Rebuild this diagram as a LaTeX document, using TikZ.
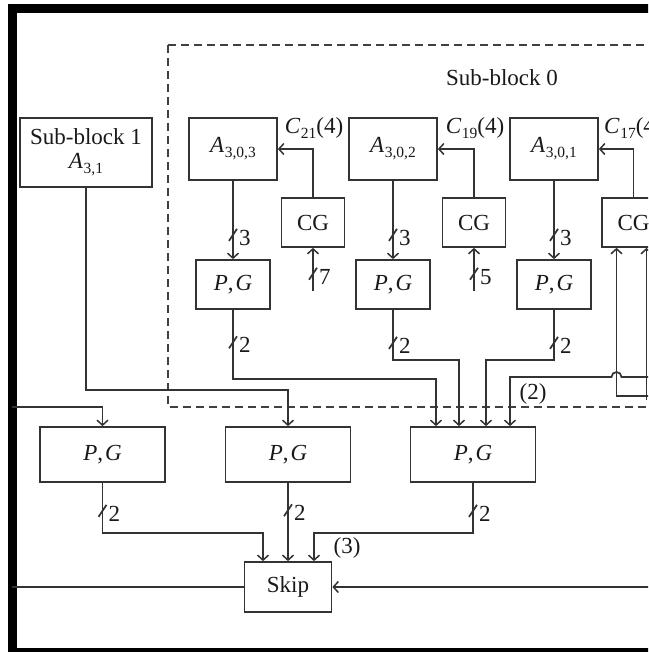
\documentclass[tikz,border=0pt]{standalone}
\usepackage{fontspec}
\setmainfont{Liberation Serif}
\usetikzlibrary{arrows.meta,calc}
\newcommand\isub[2]{\textit{#1}\kern0.5pt\raisebox{-0.22em}{\fontsize{15.5}{16}\selectfont #2}}
\newcommand\PG{\textit{P},\kern2pt\textit{G}}
\newcommand\busmark[3]{%
  \draw[ln] ($(#1)+(-4,6)$) -- ($(#1)+(4,-6)$);
  \node[lbl, anchor=west] (#3) at ($(#1)+(6,3)$) {#2};}
\begin{document}
\begin{tikzpicture}[x=1pt,y=-1pt,
  font=\fontsize{23}{26}\selectfont,
  ln/.style={draw=black!80, line width=1.7pt},
  arr/.style={ln, -{Straight Barb[length=5pt,width=11pt,line width=1.5pt]}},
  box/.style={draw=black!80, line width=1.7pt, rectangle, inner sep=0pt, text=black!90, fill=white},
  lbl/.style={inner sep=0pt, text=black!90},
  abox/.style={box, minimum width=88pt, minimum height=62pt},
  cgbox/.style={box, minimum width=63pt, minimum height=49pt},
  pgs/.style={box, minimum width=74pt, minimum height=49pt},
  pgb/.style={box, minimum width=125pt, minimum height=55pt}]
\useasboundingbox (0,0) rectangle (648,652);
\clip (0,0) rectangle (648,652);
\fill[white] (0,0) rectangle (648,652);
% frame
\fill[black] (8,4.5) rectangle (17,660);
\fill[black] (8,4.5) rectangle (700,13);
\fill[black] (8,648) rectangle (700,660);
% dashed sub-block 0
\draw[draw=black!75, line width=1.5pt, dash pattern=on 8pt off 5pt] (168,45) rectangle (720,407);
\node[lbl] (sb0) at (502,78) {Sub-block 0};
% nodes
\node[box, minimum width=132pt, minimum height=69pt, align=center] (sb1) at (86,152.5) {Sub-block 1\\[-2pt]\isub{A}{3,1}};
\node[abox] (a3) at (233,149) {\isub{A}{3,0,3}};
\node[abox] (a2) at (393,149) {\isub{A}{3,0,2}};
\node[abox] (a1) at (554,149) {\isub{A}{3,0,1}};
\node[cgbox] (cg1) at (313,222.5) {CG};
\node[cgbox] (cg2) at (474,222.5) {CG};
\node[cgbox] (cg3) at (633.5,222.5) {CG};
\node[pgs] (pg1) at (233,284.5) {\PG};
\node[pgs] (pg2) at (393,284.5) {\PG};
\node[pgs] (pg3) at (554,284.5) {\PG};
\node[pgb] (big1) at (102.5,454.5) {\PG};
\node[pgb] (big2) at (288,454.5) {\PG};
\node[pgb] (big3) at (473,454.5) {\PG};
\node[box, minimum width=87pt, minimum height=50pt] (skip) at (288,587) {Skip};
% labels
\node[lbl] (c21) at (314,128) {\isub{C}{21}(4)};
\node[lbl] (c19) at (475,128) {\isub{C}{19}(4)};
\node[lbl, anchor=west] (c17) at (604,128) {\isub{C}{17}(4)};
\node[lbl] (l2) at (533,394) {(2)};
\node[lbl] (l3) at (347,548) {(3)};
% CG -> A
\draw[arr] (cg1.north) |- (a3.east);
\draw[arr] (cg2.north) |- (a2.east);
\draw[arr] (cg3.north) |- (a1.east);
% A -> PG (3 bits)
\draw[arr] (a3.south) -- coordinate[pos=0.69] (m3a) (pg1.north);
\draw[arr] (a2.south) -- coordinate[pos=0.69] (m3b) (pg2.north);
\draw[arr] (a1.south) -- coordinate[pos=0.69] (m3c) (pg3.north);
\busmark{m3a}{3}{t3a}
\busmark{m3b}{3}{t3b}
\busmark{m3c}{3}{t3c}
% inputs into CG
\coordinate (i1) at (313,291);
\coordinate (i2) at (474,291);
\draw[arr] (i1) -- coordinate[pos=0.4] (m7) (cg1.south);
\draw[arr] (i2) -- coordinate[pos=0.4] (m5) (cg2.south);
\busmark{m7}{7}{t7}
\busmark{m5}{5}{t5}
% PG -> big3
\path (big3.north) ++(-37,0) coordinate (b3a) ++(23,0) coordinate (b3b) ++(27,0) coordinate (b3c) ++(24,0) coordinate (b3d);
\draw[arr] (pg1.south) -- coordinate[pos=0.47] (m2a) ++(0,69) -| (b3a);
\draw[arr] (pg2.south) -- coordinate[pos=0.66] (m2b) ++(0,50) -| (b3b);
\draw[arr] (pg3.south) -- coordinate[pos=0.66] (m2c) ++(0,50) -| (b3c);
\busmark{m2a}{2}{t2a}
\busmark{m2b}{2}{t2b}
\busmark{m2c}{2}{t2c}
% (2) input with hop
\coordinate (in2) at (660,377);
\coordinate (hopR) at (621.5,377);
\draw[arr] (in2) -- (hopR) arc[start angle=0, end angle=-180, radius=5] -- (b3d |- in2) -- (b3d);
% CG3 feeds
\coordinate (in3) at (660,396);
\draw[arr] (in3) -| ($(cg3.south)+(-17,0)$);
\coordinate (in4) at (646.5,400);
\draw[arr] (in4) -- ($(cg3.south)+(13,0)$);
% sub-block 1 -> big2
\draw[arr] (sb1.south) |- ($(big2.north)+(0,-36)$) -- (big2.north);
% left input -> big1
\coordinate (inL) at (12,407);
\draw[arr] (inL) -| (big1.north);
% big -> skip
\draw[arr] (big1.south) -- coordinate[pos=0.56] (m2d) ++(0,50) -| ($(skip.north)+(-25,0)$);
\draw[arr] (big2.south) -- coordinate[pos=0.35] (m2e) (skip.north);
\draw[arr] (big3.south) -- coordinate[pos=0.56] (m2f) ++(0,50) -| ($(skip.north)+(26,0)$);
\busmark{m2d}{2}{t2d}
\busmark{m2e}{2}{t2e}
\busmark{m2f}{2}{t2f}
% skip line
\coordinate (sL) at (12,587);
\coordinate (sR) at (660,587);
\draw[ln] (sL) -- (skip.west);
\draw[arr] (sR) -- (skip.east);
\end{tikzpicture}
\end{document}
